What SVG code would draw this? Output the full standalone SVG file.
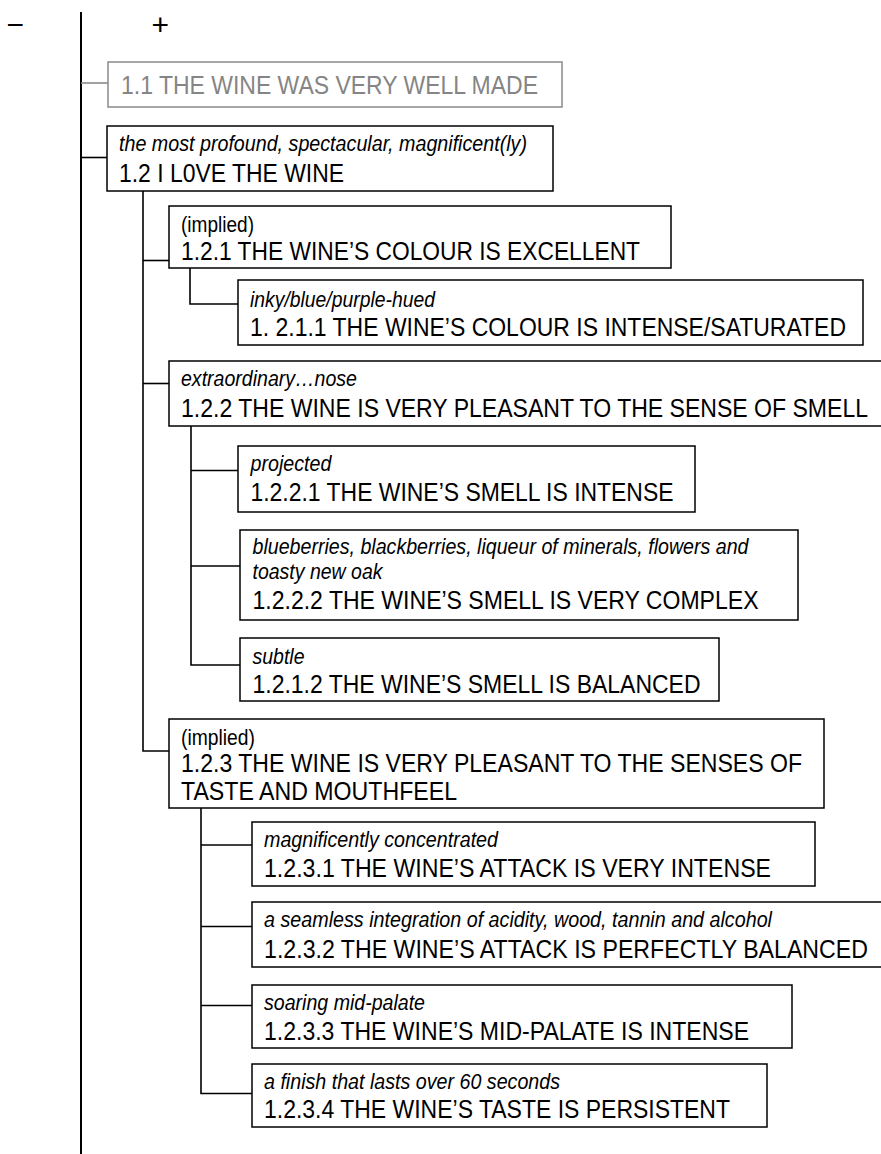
<svg xmlns="http://www.w3.org/2000/svg" width="881" height="1154" viewBox="0 0 881 1154">
<style>
  .bx { fill: #fff; stroke: #000; stroke-width: 1.5; }
  .bxg { fill: #fff; stroke: #8a8a8a; stroke-width: 1.5; }
  .m { font-family: "Liberation Sans", Arial, sans-serif; font-size: 26px; fill: #000; }
  .mg { font-family: "Liberation Sans", Arial, sans-serif; font-size: 26px; fill: #858585; }
  .i { font-family: "Liberation Sans", Arial, sans-serif; font-size: 22px; font-style: italic; fill: #000; }
  .n { font-family: "Liberation Sans", Arial, sans-serif; font-size: 22px; fill: #000; }
  .sg { font-family: "Liberation Sans", Arial, sans-serif; font-size: 30px; fill: #000; }
  .c { fill: none; stroke: #000; stroke-width: 1.6; }
  .cg { fill: none; stroke: #8a8a8a; stroke-width: 1.6; }
</style>
<rect width="881" height="1154" fill="#fff"/>
<g id="signs">
  <text class="sg" x="6.5" y="35">−</text>
  <text class="sg" x="151.5" y="35">+</text>
</g>
<g id="connectors">
  <line class="c" x1="81" y1="12" x2="81" y2="1154" style="stroke-width:2"/>
  <line class="cg" x1="81" y1="83" x2="108" y2="83"/>
  <line class="c" x1="81" y1="157.5" x2="107" y2="157.5"/>
  <polyline class="c" points="143,191 143,751 169,751"/>
  <line class="c" x1="143" y1="260.5" x2="169" y2="260.5"/>
  <line class="c" x1="143" y1="383.5" x2="169" y2="383.5"/>
  <polyline class="c" points="190,268 190,304 238,304"/>
  <polyline class="c" points="191,426 191,665 240,665"/>
  <line class="c" x1="191" y1="470.5" x2="238" y2="470.5"/>
  <line class="c" x1="191" y1="566" x2="240" y2="566"/>
  <polyline class="c" points="201,808 201,1093.5 252,1093.5"/>
  <line class="c" x1="201" y1="845" x2="252" y2="845"/>
  <line class="c" x1="201" y1="926.5" x2="252" y2="926.5"/>
  <line class="c" x1="201" y1="1005.5" x2="252" y2="1005.5"/>
</g>
<g id="n1_1">
  <rect class="bxg" x="108" y="62" width="454" height="45"/>
  <text class="mg" x="121" y="93.5" textLength="417" lengthAdjust="spacingAndGlyphs">1.1 THE WINE WAS VERY WELL MADE</text>
</g>
<g id="n1_2">
  <rect class="bx" x="107" y="126" width="446" height="65"/>
  <text class="i" x="119" y="151" textLength="408" lengthAdjust="spacingAndGlyphs">the most profound, spectacular, magnificent(ly)</text>
  <text class="m" x="119" y="182" textLength="225" lengthAdjust="spacingAndGlyphs">1.2 I L0VE THE WINE</text>
</g>
<g id="n1_2_1">
  <rect class="bx" x="169" y="206" width="502" height="62"/>
  <text class="n" x="181" y="231.5" textLength="73" lengthAdjust="spacingAndGlyphs">(implied)</text>
  <text class="m" x="181" y="260" textLength="459" lengthAdjust="spacingAndGlyphs">1.2.1 THE WINE’S COLOUR IS EXCELLENT</text>
</g>
<g id="n1_2_1_1">
  <rect class="bx" x="238" y="280" width="625" height="65"/>
  <text class="i" x="250" y="307" textLength="185" lengthAdjust="spacingAndGlyphs">inky/blue/purple-hued</text>
  <text class="m" transform="translate(250,335.5) scale(0.877,1)" x="0" y="0" textLength="679.6" lengthAdjust="spacingAndGlyphs">1. 2.1.1 THE WINE’S COLOUR IS INTENSE/SATURATED</text>
</g>
<g id="n1_2_2">
  <rect class="bx" x="169" y="361" width="730" height="65"/>
  <text class="i" x="181" y="386" textLength="176" lengthAdjust="spacingAndGlyphs">extraordinary…nose</text>
  <text class="m" transform="translate(181,416.5) scale(0.877,1)" x="0" y="0" textLength="783.4" lengthAdjust="spacingAndGlyphs">1.2.2 THE WINE IS VERY PLEASANT TO THE SENSE OF SMELL</text>
</g>
<g id="n1_2_2_1">
  <rect class="bx" x="238" y="446" width="457" height="66"/>
  <text class="i" x="250.5" y="470.5" textLength="81" lengthAdjust="spacingAndGlyphs">projected</text>
  <text class="m" x="250.5" y="500.5" textLength="423" lengthAdjust="spacingAndGlyphs">1.2.2.1 THE WINE’S SMELL IS INTENSE</text>
</g>
<g id="n1_2_2_2">
  <rect class="bx" x="240" y="530" width="558" height="90"/>
  <text class="i" x="252.5" y="554" textLength="496" lengthAdjust="spacingAndGlyphs">blueberries, blackberries, liqueur of minerals, flowers and</text>
  <text class="i" x="252.5" y="578.5" textLength="130" lengthAdjust="spacingAndGlyphs">toasty new oak</text>
  <text class="m" x="252.5" y="608.5" textLength="506" lengthAdjust="spacingAndGlyphs">1.2.2.2 THE WINE’S SMELL IS VERY COMPLEX</text>
</g>
<g id="n1_2_1_2">
  <rect class="bx" x="240" y="638" width="479" height="63"/>
  <text class="i" x="252.5" y="663.5" textLength="52" lengthAdjust="spacingAndGlyphs">subtle</text>
  <text class="m" x="252.5" y="692.5" textLength="448" lengthAdjust="spacingAndGlyphs">1.2.1.2 THE WINE’S SMELL IS BALANCED</text>
</g>
<g id="n1_2_3">
  <rect class="bx" x="169" y="719" width="655" height="89"/>
  <text class="n" x="181" y="745" textLength="74" lengthAdjust="spacingAndGlyphs">(implied)</text>
  <text class="m" x="181" y="771.5" textLength="621" lengthAdjust="spacingAndGlyphs">1.2.3 THE WINE IS VERY PLEASANT TO THE SENSES OF</text>
  <text class="m" x="181" y="799.5" textLength="276" lengthAdjust="spacingAndGlyphs">TASTE AND MOUTHFEEL</text>
</g>
<g id="n1_2_3_1">
  <rect class="bx" x="252" y="822" width="563" height="64"/>
  <text class="i" x="264" y="846.5" textLength="234" lengthAdjust="spacingAndGlyphs">magnificently concentrated</text>
  <text class="m" x="264" y="876.5" textLength="507" lengthAdjust="spacingAndGlyphs">1.2.3.1 THE WINE’S ATTACK IS VERY INTENSE</text>
</g>
<g id="n1_2_3_2">
  <rect class="bx" x="252" y="902" width="640" height="65"/>
  <text class="i" x="264" y="926.5" textLength="508" lengthAdjust="spacingAndGlyphs">a seamless integration of acidity, wood, tannin and alcohol</text>
  <text class="m" transform="translate(264,957.5) scale(0.877,1)" x="0" y="0" textLength="688.7" lengthAdjust="spacingAndGlyphs">1.2.3.2 THE WINE’S ATTACK IS PERFECTLY BALANCED</text>
</g>
<g id="n1_2_3_3">
  <rect class="bx" x="252" y="985" width="540" height="63"/>
  <text class="i" x="264" y="1009.5" textLength="161" lengthAdjust="spacingAndGlyphs">soaring mid-palate</text>
  <text class="m" x="264" y="1040" textLength="485" lengthAdjust="spacingAndGlyphs">1.2.3.3 THE WINE’S MID-PALATE IS INTENSE</text>
</g>
<g id="n1_2_3_4">
  <rect class="bx" x="252" y="1064" width="515" height="63"/>
  <text class="i" x="264" y="1088.5" textLength="296" lengthAdjust="spacingAndGlyphs">a finish that lasts over 60 seconds</text>
  <text class="m" x="264" y="1117.5" textLength="466" lengthAdjust="spacingAndGlyphs">1.2.3.4 THE WINE’S TASTE IS PERSISTENT</text>
</g>
</svg>
